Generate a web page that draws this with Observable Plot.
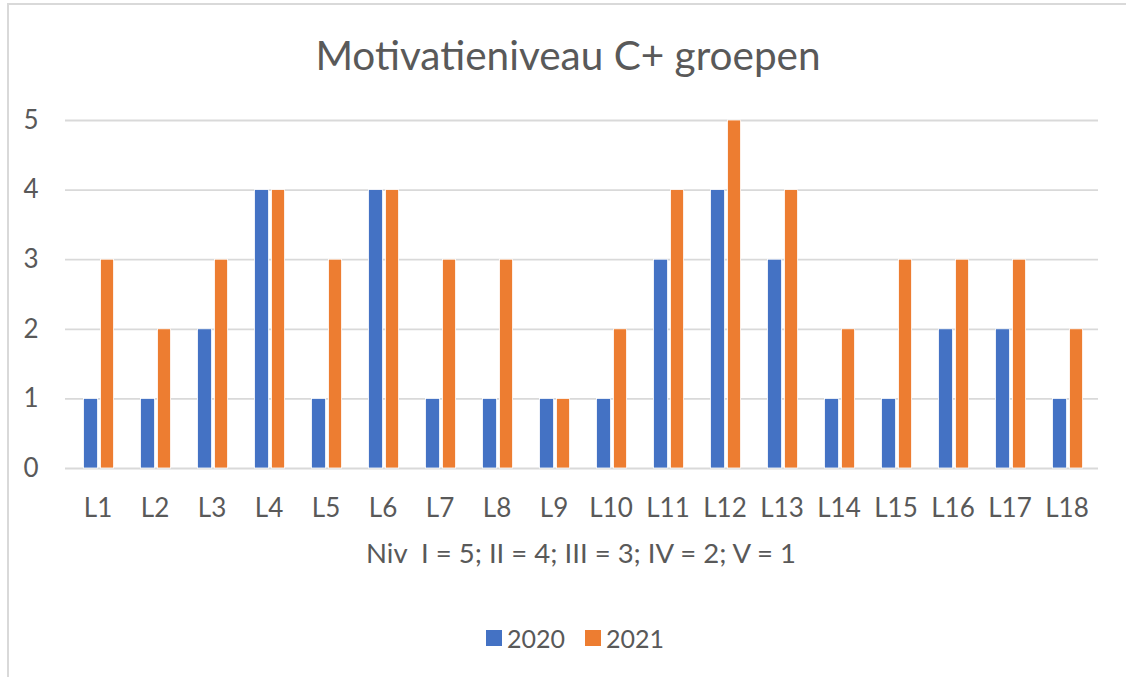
<!DOCTYPE html>
<html>
<head>
<meta charset="utf-8">
<script src="https://cdn.jsdelivr.net/npm/d3@7"></script>
<script src="https://cdn.jsdelivr.net/npm/@observablehq/plot@0.6"></script>
<style>
  html, body { margin: 0; padding: 0; background: #fff; }
  #wrap { position: relative; width: 1126px; height: 677px; overflow: hidden; font-family: Lato, "Open Sans", sans-serif; color: #595959; }
  #frame { position: absolute; left: 7px; top: 3px; width: 1300px; height: 800px; border-left: 2px solid #d9d9d9; border-top: 2px solid #d9d9d9; }
  #title { position: absolute; left: 0; width: 1136px; top: 30px; text-align: center; font-size: 40.5px; line-height: 50px; white-space: pre; }
  #chart { position: absolute; left: 0; top: 100px; }
  #xlabel { position: absolute; left: 0; width: 1162px; top: 536px; text-align: center; font-size: 27.5px; line-height: 34px; white-space: pre; }
  #legend { position: absolute; left: 0; width: 1150px; top: 620px; text-align: center; font-size: 25px; line-height: 32px; }
  .item { display: inline-flex; align-items: center; margin: 0 10px; }
  .sw { display: inline-block; width: 16px; height: 16px; margin-right: 5px; }
</style>
</head>
<body>
<div id="wrap">
  <div id="frame"></div>
  <div id="title"></div>
  <div id="chart"></div>
  <div id="xlabel"></div>
  <div id="legend"></div>
</div>
<script>
const titleText = "Motivatieniveau C+ groepen";
const xAxisTitle = "Niv  I = 5; II = 4; III = 3; IV = 2; V = 1";
const categories = ["L1","L2","L3","L4","L5","L6","L7","L8","L9","L10","L11","L12","L13","L14","L15","L16","L17","L18"];
const years = ["2020", "2021"];
const values2020 = [1,1,2,4,1,4,1,1,1,1,3,4,3,1,1,2,2,1];
const values2021 = [3,2,3,4,3,4,3,3,1,2,4,5,4,2,3,3,3,2];
const seriesColors = ["#4472C4", "#ED7D31"];
const yTicks = [0,1,2,3,4,5];

const rows2020 = categories.map((c, i) => ({cat: c, year: years[0], value: values2020[i]}));
const rows2021 = categories.map((c, i) => ({cat: c, year: years[1], value: values2021[i]}));

document.getElementById("title").textContent = titleText;
document.getElementById("xlabel").textContent = xAxisTitle;

const chart = Plot.plot({
  width: 1126,
  height: 420,
  marginLeft: 65,
  marginRight: 28,
  marginTop: 20,
  marginBottom: 52,
  style: {fontFamily: "Lato, 'Open Sans', sans-serif", fontSize: "26px", color: "#595959", background: "transparent", overflow: "visible"},
  x: {domain: categories, padding: 0, tickSize: 0, tickPadding: 30, label: null},
  y: {domain: [0, 5], ticks: yTicks, tickFormat: d3.format("d"), tickSize: 0, tickPadding: 27, label: null},
  color: {domain: years, range: seriesColors},
  marks: [
    Plot.ruleY(yTicks, {stroke: "#d9d9d9", strokeWidth: 1.8}),
    Plot.barY(rows2020, {x: "cat", y: "value", fill: "year", insetLeft: 14.5, insetRight: 28.4, stroke: "white", strokeWidth: 0.8}),
    Plot.barY(rows2021, {x: "cat", y: "value", fill: "year", insetLeft: 31.5, insetRight: 12.4, stroke: "white", strokeWidth: 0.8})
  ]
});
document.getElementById("chart").appendChild(chart);

const legend = document.getElementById("legend");
years.forEach((y, i) => {
  const item = document.createElement("span");
  item.className = "item";
  const sw = document.createElement("span");
  sw.className = "sw";
  sw.style.background = seriesColors[i];
  const t = document.createElement("span");
  t.textContent = y;
  item.appendChild(sw);
  item.appendChild(t);
  legend.appendChild(item);
});
</script>
</body>
</html>
